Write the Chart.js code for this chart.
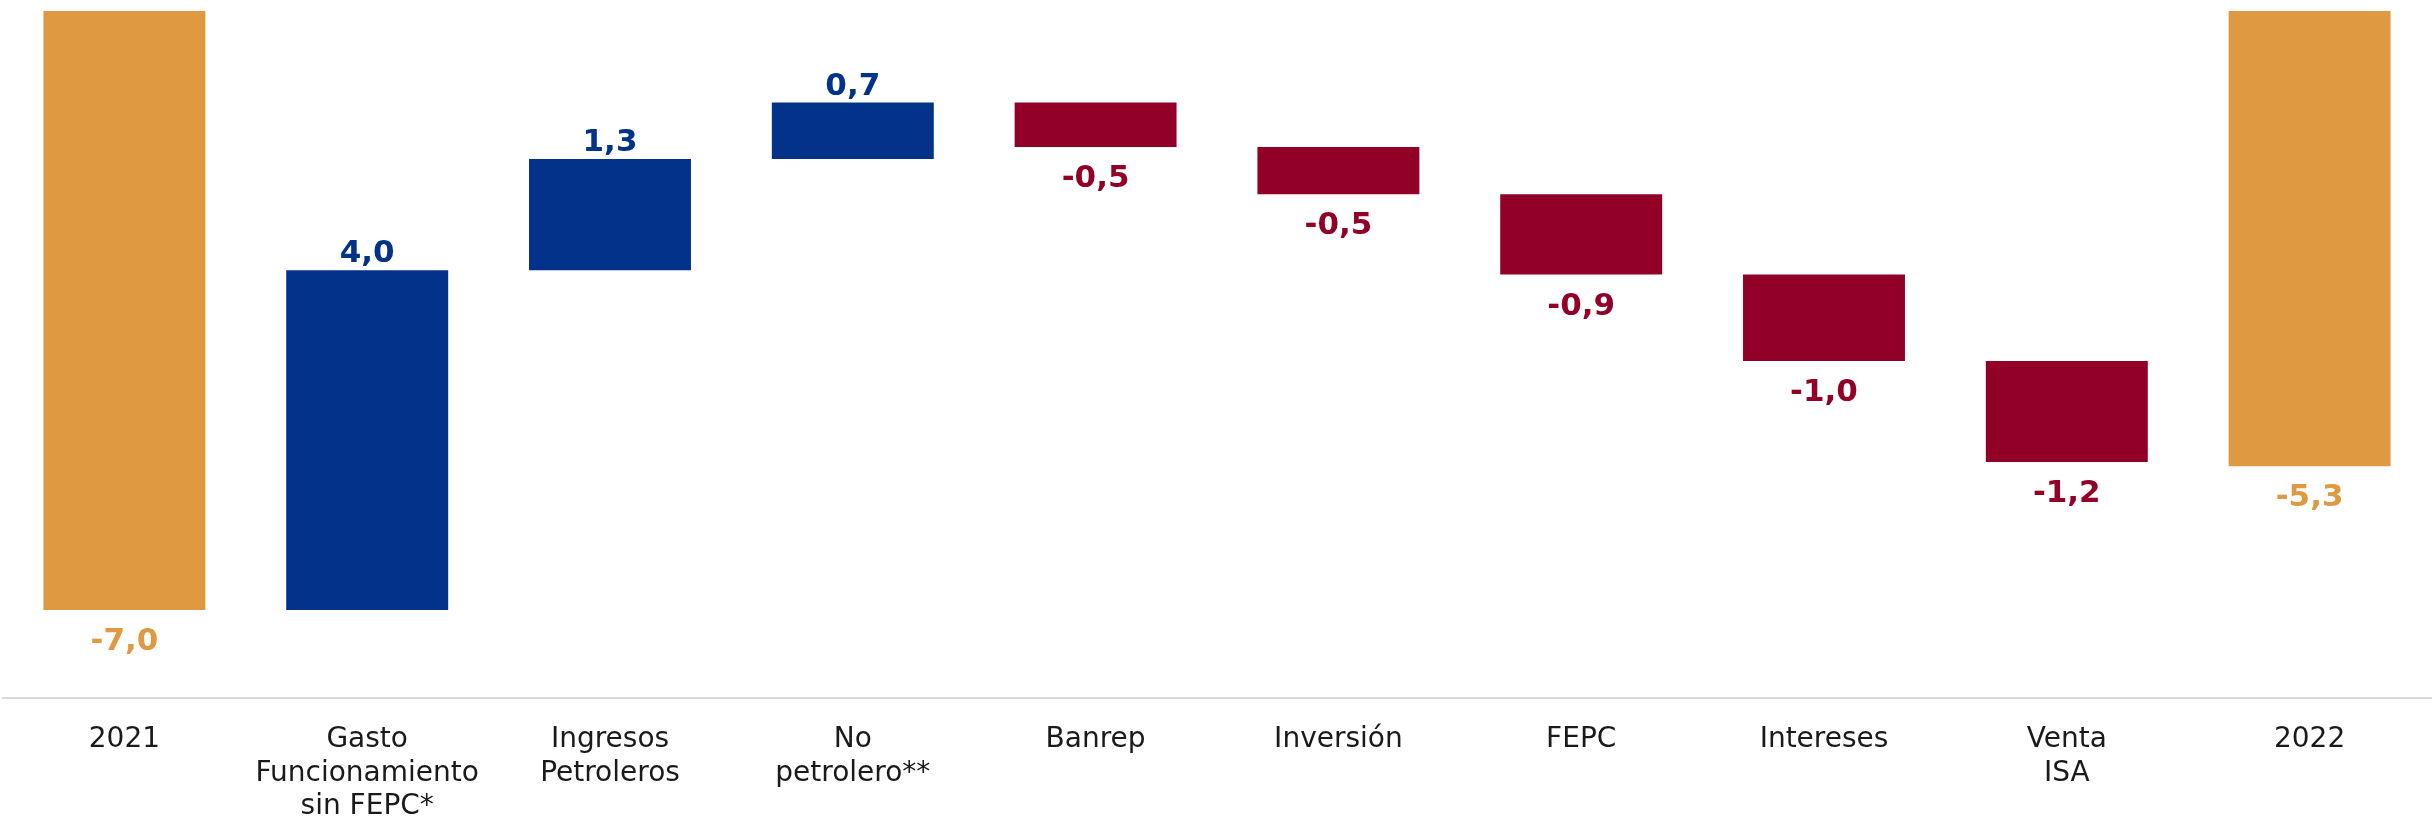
<!DOCTYPE html>
<html>
<head>
<meta charset="utf-8">
<script src="https://cdn.jsdelivr.net/npm/chart.js@4/dist/chart.umd.min.js"></script>
<style>
  html, body { margin: 0; padding: 0; background: #fff; }
</style>
</head>
<body>
<canvas id="cascada" width="2433" height="822"></canvas>
<script>
// Categorías del eje
const categorias = [
  '2021',
  ['Gasto', 'Funcionamiento', 'sin FEPC*'],
  ['Ingresos', 'Petroleros'],
  ['No', 'petrolero**'],
  'Banrep',
  'Inversión',
  'FEPC',
  'Intereses',
  ['Venta', 'ISA'],
  '2022'
];

// Nivel donde empieza y termina cada barra (% del PIB)
const inicio = [0, -7.0, -3.03, -1.73, -1.07, -1.59, -2.14, -3.08, -4.09, 0];
const fin = [-7.0, -3.03, -1.73, -1.07, -1.59, -2.14, -3.08, -4.09, -5.27, -5.32];

// Etiquetas de valor que se muestran
const etiquetas = ['-7,0', '4,0', '1,3', '0,7', '-0,5', '-0,5', '-0,9', '-1,0', '-1,2', '-5,3'];

// Tipo de barra: total, sube, baja
const tipo = ['total', 'sube', 'sube', 'sube', 'baja', 'baja', 'baja', 'baja', 'baja', 'total'];

const colores = { total: '#DF9941', sube: '#03328A', baja: '#920028' };

const rangos = inicio.map((v, i) => [v, fin[i]]);

// Plugin para escribir los valores sobre/bajo cada barra
const valoresPlugin = {
  id: 'valores',
  afterDatasetsDraw(chart) {
    const ctx = chart.ctx;
    const yScale = chart.scales.y;
    const meta = chart.getDatasetMeta(0);
    ctx.save();
    ctx.font = 'bold 31px "DejaVu Sans"';
    ctx.textAlign = 'center';
    ctx.textBaseline = 'alphabetic';
    meta.data.forEach((barra, i) => {
      const alto = Math.max(inicio[i], fin[i]);
      const bajo = Math.min(inicio[i], fin[i]);
      ctx.fillStyle = colores[tipo[i]];
      if (tipo[i] === 'sube') {
        ctx.fillText(etiquetas[i], barra.x, yScale.getPixelForValue(alto) - 8);
      } else {
        ctx.fillText(etiquetas[i], barra.x, yScale.getPixelForValue(bajo) + 40);
      }
    });
    ctx.restore();
  }
};

const ctx = document.getElementById('cascada').getContext('2d');
const grafico = new Chart(ctx, {
  type: 'bar',
  data: {
    labels: categorias,
    datasets: [{
      data: rangos,
      backgroundColor: tipo.map(t => colores[t]),
      borderWidth: 0,
      barPercentage: 0.667,
      categoryPercentage: 1
    }]
  },
  options: {
    responsive: false,
    animation: false,
    devicePixelRatio: 1,
    layout: {
      padding: { top: 11, left: 3, right: 2, bottom: -27 }
    },
    plugins: {
      legend: { display: false },
      tooltip: { enabled: false }
    },
    scales: {
      x: {
        grid: { display: false, drawTicks: false },
        border: { display: true, color: '#D9D9D9', width: 2 },
        ticks: {
          color: '#1A1A1A',
          font: { family: '"DejaVu Sans"', size: 28, lineHeight: 1.2 },
          padding: 25,
          maxRotation: 0,
          autoSkip: false
        }
      },
      y: {
        display: false,
        min: -8.03,
        max: 0
      }
    }
  },
  plugins: [valoresPlugin]
});
</script>
</body>
</html>
